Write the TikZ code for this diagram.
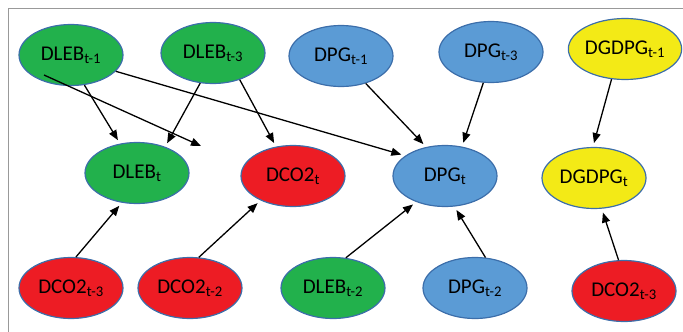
\documentclass[tikz,border=0pt]{standalone}
\usepackage{fontspec}
\setmainfont{Carlito}
\usepackage{xcolor}
\usetikzlibrary{arrows.meta,calc,positioning,shapes.geometric}
\definecolor{lebGreen}{RGB}{34,177,76}
\definecolor{coRed}{RGB}{237,28,36}
\definecolor{pgBlue}{RGB}{91,155,213}
\definecolor{gdYellow}{RGB}{243,234,22}
\definecolor{rim}{RGB}{60,110,170}

\begin{document}
\begin{tikzpicture}[x=1pt,y=-1pt,>={Triangle[length=10pt,width=8pt]},
  var/.style={ellipse,draw=rim,line width=1.2pt,minimum width=104pt,
    minimum height=61pt,inner sep=0pt,font=\fontsize{21}{24}\selectfont},
  leb/.style={var,fill=lebGreen},
  co/.style={var,fill=coRed},
  pg/.style={var,fill=pgBlue},
  gd/.style={var,fill=gdYellow},
  lnk/.style={->,line width=1.3pt,shorten >=4pt}]
  \useasboundingbox (0,0) rectangle (683,332);
  \draw[gray!80,line width=1pt] (8,332) -- (8,8) -- (683,8);
  % lagged variables, top row
  \node[leb] (lt1) at (71,55)  {DLEB\textsubscript{t-1}};
  \node[leb] (lt3) at (213,53) {DLEB\textsubscript{t-3}};
  \node[pg]  (pg1) at (341,56) {DPG\textsubscript{t-1}};
  \node[pg]  (pg3) at (491,52) {DPG\textsubscript{t-3}};
  \node[gd]  (gd1) at (625,49) {DGDPG\textsubscript{t-1}};
  % current period
  \node[leb] (lt) at (137,173) {DLEB\textsubscript{t}};
  \node[co]  (co) at (293,176) {DCO2\textsubscript{t}};
  \node[pg]  (pg) at (445,176) {DPG\textsubscript{t}};
  \node[gd]  (gd) at (594,178) {DGDPG\textsubscript{t}};
  % lagged variables, bottom row
  \node[co]  (co3)  at (71,288)  {DCO2\textsubscript{t-3}};
  \node[co]  (co2)  at (190,288) {DCO2\textsubscript{t-2}};
  \node[leb] (lt2)  at (333,288) {DLEB\textsubscript{t-2}};
  \node[pg]  (pg2)  at (475,288) {DPG\textsubscript{t-2}};
  \node[co]  (co3r) at (624,291) {DCO2\textsubscript{t-3}};
  % links
  \foreach \a/\b in {lt1.-66/lt.120, lt1.-20/pg.153, lt3.-113/lt.43,
      lt3.-45/co.120, pg1.-48/pg.123, pg3.-104/pg.60, gd1.-114/gd.92,
      co3.81/lt.-117, co2.74/co.-143, lt2.67/pg.-138, pg2.71/pg.-73,
      co3r.100/gd.-76}
    \draw[lnk] (\a) -- (\b);
  \coordinate (tail) at ($(lt1.center)+(-27,20)$);
  \coordinate (loose) at (201,146);
  \draw[lnk,shorten >=0pt] (tail) -- (loose);
\end{tikzpicture}
\end{document}
